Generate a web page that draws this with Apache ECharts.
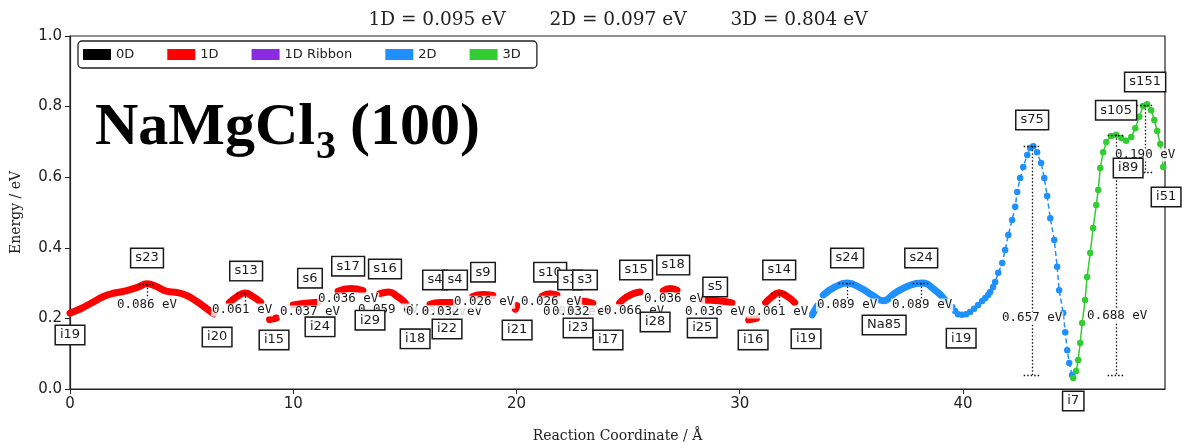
<!DOCTYPE html>
<html><head><meta charset="utf-8">
<script src="https://cdn.jsdelivr.net/npm/echarts@6/dist/echarts.min.js"></script>
<style>html,body{margin:0;padding:0;background:#fff}#c{width:1184px;height:448px}</style>
</head><body><div id="c"></div>
<script>
// ---------- data ----------
const titleParts = ['1D = 0.095 eV', '2D = 0.097 eV', '3D = 0.804 eV'];
const xTicks = [0, 10, 20, 30, 40];
const yTicks = [0.0, 0.2, 0.4, 0.6, 0.8, 1.0];
const legendNames = ['0D', '1D', '1D Ribbon', '2D', '3D'];
const legendColors = ['#000000', '#ff0000', '#8a2be2', '#1e90ff', '#32cd32'];

// 1D (red) path segments [x, E]
const oneD = [
  [[0,0.215],[0.5,0.228],[1.0,0.245],[1.5,0.262],[2.0,0.272],[2.5,0.278],[3.02,0.288],[3.45,0.298],[3.85,0.291],[4.32,0.277],[4.82,0.273],[5.23,0.265],[5.63,0.25],[6.03,0.232],[6.43,0.213]],
  [[7.14,0.245],[7.49,0.262],[7.84,0.272],[8.19,0.262],[8.54,0.246]],
  [[8.94,0.197],[9.25,0.201]],
  [[10.0,0.238],[10.55,0.243],[11.1,0.246]],
  [[12.01,0.277],[12.56,0.285],[13.12,0.279]],
  [[13.87,0.27],[14.27,0.275],[14.67,0.262],[15.02,0.244]],
  [[16.13,0.24],[16.58,0.245],[17.13,0.245]],
  [[18.04,0.262],[18.49,0.268],[18.94,0.265]],
  [[19.95,0.226],[20.02,0.236]],
  [[21.15,0.263],[21.5,0.27],[21.81,0.266]],
  [[22.86,0.249],[23.16,0.247],[23.42,0.243]],
  [[24.62,0.244],[24.92,0.26],[25.22,0.27],[25.53,0.275]],
  [[26.58,0.278],[26.88,0.285],[27.19,0.28]],
  [[28.34,0.252],[29.04,0.25],[29.65,0.244]],
  [[30.4,0.196],[30.75,0.2]],
  [[31.16,0.245],[31.46,0.262],[31.76,0.273],[32.11,0.263],[32.46,0.245]]
];
// 2D (blue) dense band segments
const twoDBand = [
  [[33.24,0.21],[33.47,0.235]],
  [[33.74,0.266],[34.27,0.289],[34.81,0.30],[35.39,0.287],[35.93,0.266],[36.42,0.25],[36.96,0.272],[37.63,0.294],[38.17,0.30],[38.75,0.28],[39.2,0.252]]
];
// 2D (blue) dashed path with markers
const twoDPathX = [39.52,39.65,39.78,39.96,40.14,40.32,40.5,40.68,40.86,41.0,41.13,41.22,41.35,41.44,41.58,41.76,41.89,42.03,42.2,42.34,42.43,42.56,42.7,42.88,43.01,43.15,43.32,43.5,43.64,43.77,43.91,44.09,44.22,44.31,44.49,44.58,44.67,44.76,44.89];
const twoDPathE = [0.232,0.221,0.212,0.21,0.212,0.218,0.227,0.238,0.249,0.258,0.266,0.275,0.289,0.303,0.329,0.357,0.394,0.436,0.479,0.516,0.558,0.598,0.629,0.663,0.683,0.688,0.671,0.64,0.598,0.547,0.484,0.422,0.346,0.28,0.215,0.161,0.11,0.074,0.04];
// 3D (green) path with markers
const threeDX = [44.94,45.07,45.16,45.25,45.34,45.47,45.56,45.7,45.83,45.97,46.06,46.15,46.28,46.42,46.64,46.86,47.09,47.31,47.54,47.72,47.9,48.07,48.25,48.43,48.57,48.7,48.84,48.97];
const threeDE = [0.031,0.051,0.082,0.13,0.187,0.252,0.317,0.385,0.456,0.521,0.564,0.626,0.671,0.7,0.717,0.72,0.711,0.703,0.714,0.739,0.771,0.802,0.807,0.79,0.762,0.731,0.694,0.629];

// state labels [name, x, E]
const stateLabels = [
  ['i19',0,0.153],['s23',3.45,0.371],['i20',6.59,0.147],['s13',7.89,0.334],['i15',9.14,0.139],
  ['s6',10.75,0.314],['i24',11.2,0.176],['s17',12.46,0.348],['i29',13.44,0.195],['s16',14.11,0.34],
  ['i18',15.46,0.142],['s4',16.35,0.309],['s4',17.25,0.309],['i22',16.89,0.17],['s9',18.5,0.331],
  ['i21',20.03,0.167],['s10',21.51,0.331],['s3',22.4,0.309],['s3',23.07,0.309],['i23',22.76,0.173],
  ['i17',24.1,0.139],['s15',25.36,0.337],['s18',27.02,0.351],['i28',26.21,0.19],['s5',28.9,0.289],
  ['i25',28.32,0.173],['i16',30.6,0.139],['s14',31.77,0.337],['i19',32.97,0.142],['s24',34.81,0.371],
  ['s24',38.13,0.371],['Na85',36.47,0.181],['i19',39.92,0.144],['i7',44.94,-0.034],['s75',43.1,0.762],
  ['s105',46.86,0.79],['s151',48.16,0.87],['i89',47.4,0.626],['i51',49.1,0.544]
];
// barrier texts [text, x, E]
const barrierTexts = [
  ['0.086 eV',3.45,0.238],['0.061 eV',7.71,0.224],['0.037 eV',10.75,0.218],['0.036 eV',12.46,0.255],
  ['0.059 eV',14.25,0.224],['0.032 eV',16.4,0.218],['0.032 eV',17.11,0.218],['0.026 eV',18.55,0.246],
  ['0.026 eV',21.55,0.246],['0.032 eV',22.54,0.218],['0.032 eV',22.94,0.218],['0.066 eV',25.27,0.222],
  ['0.036 eV',27.06,0.255],['0.036 eV',28.9,0.218],['0.061 eV',31.72,0.218],['0.089 eV',34.81,0.238],
  ['0.089 eV',38.17,0.238],['0.657 eV',43.1,0.201],['0.688 eV',46.91,0.207],['0.190 eV',48.16,0.663]
];
// barrier markers [x, top E, bottom E, bottom cap]
const barrierLines = [
  [3.45,0.297,0.255,0],[7.84,0.272,0.235,0],[31.77,0.272,0.235,0],[34.81,0.30,0.255,0],[38.13,0.30,0.255,0],
  [43.1,0.688,0.04,1],[46.86,0.72,0.04,1],[48.16,0.804,0.614,1]
];

// ---------- chart ----------
const chart = echarts.init(document.getElementById('c'), null, {renderer: 'canvas'});
const axisCol = '#222';
const series = [];
const zip = (xs, ys) => xs.map((x, i) => [x, ys[i]]);

series.push({name: '0D', type: 'line', data: [], itemStyle: {color: legendColors[0]}, lineStyle: {color: legendColors[0]}});
oneD.forEach(seg => series.push({
  name: '1D', type: 'line', data: seg, smooth: true, symbol: 'none', z: 2,
  itemStyle: {color: legendColors[1]}, lineStyle: {color: legendColors[1], width: 7, cap: 'round', join: 'round'}
}));
series.push({name: '1D Ribbon', type: 'line', data: [], itemStyle: {color: legendColors[2]}, lineStyle: {color: legendColors[2]}});
twoDBand.forEach(seg => series.push({
  name: '2D', type: 'line', data: seg, smooth: true, symbol: 'none', z: 2,
  itemStyle: {color: legendColors[3]}, lineStyle: {color: legendColors[3], width: 7, cap: 'round', join: 'round'}
}));
series.push({
  name: '2D', type: 'line', data: zip(twoDPathX, twoDPathE), symbol: 'circle', symbolSize: 6.5, showAllSymbol: true, z: 2,
  itemStyle: {color: legendColors[3]}, lineStyle: {color: legendColors[3], width: 1.5, type: [5, 3]}
});
series.push({
  name: '3D', type: 'line', data: zip(threeDX, threeDE), symbol: 'circle', symbolSize: 6.5, showAllSymbol: true, z: 2, clip: true,
  itemStyle: {color: legendColors[4]}, lineStyle: {color: legendColors[4], width: 1.5}
});

const markData = [];
const capHalf = 0.38;
barrierLines.forEach(([x, t, b, both]) => {
  markData.push([{coord: [x, t]}, {coord: [x, b]}]);
  markData.push([{coord: [x - capHalf, t]}, {coord: [x + capHalf, t]}]);
  if (both) markData.push([{coord: [x - capHalf, b]}, {coord: [x + capHalf, b]}]);
});

series.push({
  name: 'barriers', type: 'scatter', z: 4, clip: false, symbolSize: 1,
  itemStyle: {color: 'rgba(0,0,0,0)', opacity: 1},
  data: barrierTexts.map(([t, x, y]) => ({value: [x, y], name: t})),
  label: {
    show: true, position: 'inside', formatter: p => p.name, opacity: 1,
    fontFamily: 'DejaVu Sans Mono', fontSize: 12.5, color: '#1a1a1a',
    backgroundColor: 'rgba(255,255,255,0.8)', padding: [0, 1]
  },
  markLine: {
    silent: true, symbol: ['none', 'none'], label: {show: false},
    lineStyle: {type: [1.5, 2], color: '#111', width: 1.3, opacity: 1},
    data: markData, z: 3
  }
});
series.push({
  name: 'states', type: 'scatter', z: 5, clip: false, symbolSize: 1,
  itemStyle: {color: 'rgba(0,0,0,0)', opacity: 1},
  data: stateLabels.map(([t, x, y]) => ({value: [x, y], name: t})),
  label: {
    show: true, position: 'inside', formatter: p => p.name, opacity: 1,
    fontFamily: 'DejaVu Sans', fontSize: 13, color: '#1a1a1a',
    backgroundColor: '#fff', borderColor: '#1a1a1a', borderWidth: 1.5, padding: [3, 4, 2, 4]
  }
});

chart.setOption({
  animation: false,
  backgroundColor: '#fff',
  grid: {left: 70, right: 19, top: 36, bottom: 59, show: true, borderColor: axisCol, borderWidth: 1.2, backgroundColor: 'transparent'},
  legend: {
    data: legendNames, icon: 'rect', itemWidth: 28, itemHeight: 11, itemGap: 33,
    left: 78, top: 41, padding: [7, 16, 7, 5],
    borderColor: '#222', borderWidth: 1.3, borderRadius: 4,
    textStyle: {fontFamily: 'DejaVu Sans', fontSize: 13, color: '#222'}
  },
  xAxis: {
    type: 'value', min: 0, max: 49.05, interval: 10,
    name: 'Reaction Coordinate / Å', nameLocation: 'middle', nameGap: 40,
    nameTextStyle: {fontFamily: 'DejaVu Serif', fontSize: 14, color: '#222'},
    axisLine: {lineStyle: {color: axisCol, width: 1.2}},
    axisTick: {show: true, length: 5, lineStyle: {color: axisCol}},
    splitLine: {show: false},
    axisLabel: {showMaxLabel: false, margin: 8, fontFamily: 'DejaVu Sans', fontSize: 15, color: '#222',
      formatter: v => xTicks.includes(v) ? String(v) : ''}
  },
  yAxis: {
    type: 'value', min: 0, max: 1, interval: 0.2,
    name: 'Energy / eV', nameLocation: 'middle', nameGap: 47,
    nameTextStyle: {fontFamily: 'DejaVu Serif', fontSize: 14, color: '#222'},
    axisLine: {show: true, lineStyle: {color: axisCol, width: 1.2}},
    axisTick: {show: true, length: 5, lineStyle: {color: axisCol}},
    splitLine: {show: false},
    axisLabel: {margin: 8, fontFamily: 'DejaVu Sans', fontSize: 15, color: '#222',
      formatter: v => yTicks.some(t => Math.abs(t - v) < 1e-9) ? v.toFixed(1) : ''}
  },
  graphic: [
    {type: 'text', x: 437, y: 20, style: {text: titleParts[0], align: 'center', verticalAlign: 'middle',
      font: '18.5px "DejaVu Serif"', fill: '#222'}},
    {type: 'text', x: 618, y: 20, style: {text: titleParts[1], align: 'center', verticalAlign: 'middle',
      font: '18.5px "DejaVu Serif"', fill: '#222'}},
    {type: 'text', x: 799, y: 20, style: {text: titleParts[2], align: 'center', verticalAlign: 'middle',
      font: '18.5px "DejaVu Serif"', fill: '#222'}},
    {type: 'text', x: 95, y: 128, style: {text: 'NaMgCl', align: 'left', verticalAlign: 'middle',
      font: 'bold 60px "Liberation Serif"', fill: '#000'}},
    {type: 'text', x: 316, y: 148, style: {text: '3', align: 'left', verticalAlign: 'middle',
      font: 'bold 40px "Liberation Serif"', fill: '#000'}},
    {type: 'text', x: 350, y: 128, style: {text: '(100)', align: 'left', verticalAlign: 'middle',
      font: 'bold 60px "Liberation Serif"', fill: '#000'}}
  ],
  series: series
});
</script>
</body></html>
